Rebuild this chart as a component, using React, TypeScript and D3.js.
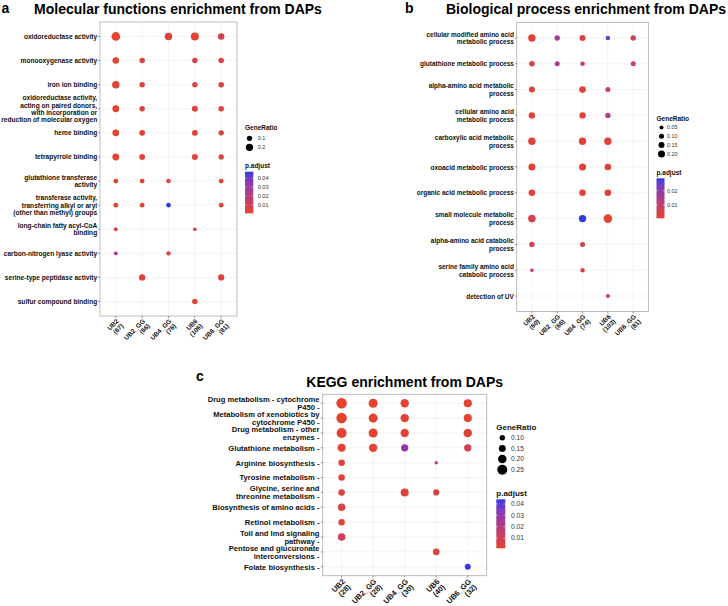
import React from 'react';
import * as d3 from 'd3';

// ---------- data ----------
const groups = ['UB2', 'UB2_GG', 'UB4_GG', 'UB6', 'UB6_GG'];
const countsA = [67, 66, 76, 106, 81];
const countsB = [60, 66, 74, 103, 81];
const countsC = [28, 28, 30, 40, 32];

const termsA = [
  'oxidoreductase activity',
  'monooxygenase activity',
  'iron ion binding',
  'oxidoreductase activity,\nacting on paired donors,\nwith incorporation or\nreduction of molecular oxygen',
  'heme binding',
  'tetrapyrrole binding',
  'glutathione transferase\nactivity',
  'transferase activity,\ntransferring alkyl or aryl\n(other than methyl) groups',
  'long-chain fatty acyl-CoA\nbinding',
  'carbon-nitrogen lyase activity',
  'serine-type peptidase activity',
  'sulfur compound binding',
];
// GeneRatio per term (rows) x group (cols)
const ratioA: (number | null)[][] = [
  [0.269, null, 0.211, 0.236, 0.16],
  [0.164, 0.106, null, 0.104, 0.111],
  [0.209, 0.106, null, 0.104, 0.111],
  [0.179, 0.106, null, 0.132, 0.111],
  [0.179, 0.121, null, 0.132, 0.099],
  [0.179, 0.121, null, 0.132, 0.099],
  [0.075, 0.076, 0.066, null, 0.074],
  [0.075, 0.076, 0.066, null, 0.074],
  [0.03, null, null, 0.019, null],
  [0.03, null, 0.053, null, null],
  [null, 0.152, null, null, 0.148],
  [null, null, null, 0.104, null],
];
const padjA: (number | null)[][] = [
  [0.0005, null, 0.003, 0.001, 0.009],
  [0.001, 0.004, null, 0.005, 0.006],
  [0.001, 0.004, null, 0.006, 0.007],
  [0.001, 0.005, null, 0.004, 0.006],
  [0.001, 0.003, null, 0.003, 0.006],
  [0.001, 0.003, null, 0.003, 0.006],
  [0.002, 0.003, 0.004, null, 0.004],
  [0.002, 0.003, 0.0475, null, 0.004],
  [0.005, null, null, 0.006, null],
  [0.028, null, 0.005, null, null],
  [null, 0.002, null, null, 0.003],
  [null, null, null, 0.002, null],
];

const termsB = [
  'cellular modified amino acid\nmetabolic process',
  'glutathione metabolic process',
  'alpha-amino acid metabolic\nprocess',
  'cellular amino acid\nmetabolic process',
  'carboxylic acid metabolic\nprocess',
  'oxoacid metabolic process',
  'organic acid metabolic process',
  'small molecule metabolic\nprocess',
  'alpha-amino acid catabolic\nprocess',
  'serine family amino acid\ncatabolic process',
  'detection of UV',
];
const ratioB: (number | null)[][] = [
  [0.22, 0.12, 0.15, 0.08, 0.12],
  [0.13, 0.1, 0.08, null, 0.1],
  [0.15, null, 0.18, 0.1, null],
  [0.17, null, 0.17, 0.12, null],
  [0.22, null, 0.22, 0.22, null],
  [0.2, null, 0.2, 0.18, null],
  [0.18, null, 0.18, 0.18, null],
  [0.23, null, 0.22, 0.28, null],
  [0.12, null, 0.1, null, null],
  [0.033, null, 0.07, null, null],
  [null, null, null, 0.05, null],
];
const padjB: (number | null)[][] = [
  [0.002, 0.016, 0.003, 0.024, 0.007],
  [0.002, 0.016, 0.008, null, 0.008],
  [0.002, null, 0.002, 0.008, null],
  [0.002, null, 0.002, 0.014, null],
  [0.002, null, 0.002, 0.002, null],
  [0.002, null, 0.002, 0.002, null],
  [0.002, null, 0.002, 0.002, null],
  [0.005, null, 0.0285, 0.0015, null],
  [0.005, null, 0.004, null, null],
  [0.01, null, 0.005, null, null],
  [null, null, null, 0.004, null],
];

const termsC = [
  'Drug metabolism - cytochrome\nP450 -',
  'Metabolism of xenobiotics by\ncytochrome P450 -',
  'Drug metabolism - other\nenzymes -',
  'Glutathione metabolism -',
  'Arginine biosynthesis -',
  'Tyrosine metabolism -',
  'Glycine, serine and\nthreonine metabolism -',
  'Biosynthesis of amino acids -',
  'Retinol metabolism -',
  'Toll and Imd signaling\npathway -',
  'Pentose and glucuronate\ninterconversions -',
  'Folate biosynthesis -',
];
const ratioC: (number | null)[][] = [
  [0.268, 0.22, 0.198, null, 0.19],
  [0.268, 0.22, 0.198, null, 0.19],
  [0.25, 0.22, 0.198, null, 0.2],
  [0.185, 0.198, 0.165, null, 0.165],
  [0.135, null, null, 0.04, null],
  [0.135, null, null, null, null],
  [0.135, null, 0.185, 0.125, null],
  [0.165, null, null, null, null],
  [0.135, null, null, null, null],
  [0.172, null, null, null, null],
  [null, null, null, 0.14, null],
  [null, null, null, null, 0.12],
];
const padjC: (number | null)[][] = [
  [0.001, 0.001, 0.002, null, 0.002],
  [0.001, 0.001, 0.002, null, 0.002],
  [0.001, 0.001, 0.002, null, 0.003],
  [0.002, 0.002, 0.029, null, 0.009],
  [0.004, null, null, 0.017, null],
  [0.004, null, null, null, null],
  [0.004, null, 0.003, 0.005, null],
  [0.005, null, null, null, null],
  [0.004, null, null, null, null],
  [0.011, null, null, null, null],
  [null, null, null, 0.004, null],
  [null, null, null, null, 0.044],
];

const sizeBreaksA = [0.1, 0.2];
const sizeBreaksB = [0.05, 0.1, 0.15, 0.2];
const sizeBreaksC = [0.1, 0.15, 0.2, 0.25];
const colorBreaksA = [0.01, 0.02, 0.03, 0.04];
const colorBreaksB = [0.01, 0.02];
const colorBreaksC = [0.01, 0.02, 0.03, 0.04];
const colorLimitsA: [number, number] = [0.0002, 0.0475];
const colorLimitsB: [number, number] = [0.0007, 0.0287];
const colorLimitsC: [number, number] = [0.0009, 0.0441];

const titleA = 'Molecular functions enrichment from DAPs';
const titleB = 'Biological process enrichment from DAPs';
const titleC = 'KEGG enrichment from DAPs';

// ---------- styling ----------
const LOW = '#E5432F';
const HIGH = '#2C3DE3';
const FONT = '"Liberation Sans", Arial, Helvetica, sans-serif';
const TEXT = '#111';

type Cfg = {
  id: string;
  terms: string[];
  counts: number[];
  ratio: (number | null)[][];
  padj: (number | null)[][];
  box: [number, number, number, number];
  yFont: number;
  yLH: number;
  yGap: number;
  xFont: number;
  xLH: number;
  xOff: number;
  rDomain: [number, number];
  rRange: [number, number];
  cLimits: [number, number];
  sizeBreaks: number[];
  sizeFmt: string;
  colorBreaks: number[];
  leg: {
    x: number;
    titleY: number;
    dotX: number;
    dotY0: number;
    dotDy: number;
    labelX: number;
    pTitleY: number;
    barW: number;
    barY0: number;
    barY1: number;
    titleFont: number;
    labelFont: number;
  };
  title: string;
  titleX: number;
  titleY: number;
  letter: string;
  letterX: number;
  letterY: number;
};

function Panel({ c }: { c: Cfg }) {
  const [x0, y0, x1, y1] = c.box;
  const x = d3.scalePoint<string>().domain(groups).range([x0, x1]).padding(0.6);
  const y = d3.scalePoint<string>().domain(c.terms).range([y0, y1]).padding(0.6);
  const r = d3.scaleLinear().domain(c.rDomain).range(c.rRange);
  const rr = (v: number) => Math.max(1, r(v));
  const col = d3
    .scaleLinear<string>()
    .domain(c.cLimits)
    .range([LOW, HIGH])
    .interpolate(d3.interpolateLab)
    .clamp(true);
  const bar = d3.scaleLinear().domain(c.cLimits).range([c.leg.barY1, c.leg.barY0]);
  const stops = d3.range(0, 11).map((i) => i / 10);
  const L = c.leg;

  const dots: JSX.Element[] = [];
  c.terms.forEach((t, i) => {
    groups.forEach((g, j) => {
      const v = c.ratio[i][j];
      const p = c.padj[i][j];
      if (v == null || p == null) return;
      dots.push(<circle key={`${i}-${j}`} cx={x(g)} cy={y(t)} r={rr(v)} fill={col(p)} />);
    });
  });

  return (
    <g fontFamily={FONT}>
      <defs>
        <linearGradient id={`grad-${c.id}`} x1="0" y1="1" x2="0" y2="0">
          {stops.map((s) => (
            <stop
              key={s}
              offset={`${s * 100}%`}
              stopColor={col(c.cLimits[0] + s * (c.cLimits[1] - c.cLimits[0]))}
            />
          ))}
        </linearGradient>
      </defs>
      <text x={c.letterX} y={c.letterY} fontSize={14} fontWeight="bold" fill="#000">
        {c.letter}
      </text>
      <text x={c.titleX} y={c.titleY} fontSize={14} fontWeight="bold" textAnchor="middle" fill="#000">
        {c.title}
      </text>
      <rect x={x0} y={y0} width={x1 - x0} height={y1 - y0} fill="#fff" />
      {groups.map((g) => (
        <line key={g} x1={x(g)} x2={x(g)} y1={y0} y2={y1} stroke="#EBEBEB" strokeWidth={0.6} />
      ))}
      {c.terms.map((t) => (
        <line key={t} x1={x0} x2={x1} y1={y(t)} y2={y(t)} stroke="#EBEBEB" strokeWidth={0.6} />
      ))}
      {dots}
      <rect x={x0} y={y0} width={x1 - x0} height={y1 - y0} fill="none" stroke="#B5B5B5" strokeWidth={0.9} />
      {/* y axis */}
      {c.terms.map((t) => {
        const lines = t.split('\n');
        const n = lines.length;
        const yy = y(t) as number;
        return (
          <g key={t}>
            <line x1={x0 - 1.8} x2={x0} y1={yy} y2={yy} stroke="#444" strokeWidth={0.6} />
            <text textAnchor="end" fontSize={c.yFont} fontWeight="bold" fill={TEXT}>
              {lines.map((ln, k) => (
                <tspan key={k} x={x0 - c.yGap} y={yy + (k - (n - 1) / 2) * c.yLH + 0.34 * c.yFont + 0.3}>
                  {ln}
                </tspan>
              ))}
            </text>
          </g>
        );
      })}
      {/* x axis */}
      {groups.map((g, j) => {
        const xx = x(g) as number;
        return (
          <g key={g}>
            <line x1={xx} x2={xx} y1={y1} y2={y1 + 1.8} stroke="#444" strokeWidth={0.6} />
            <text
              transform={`translate(${xx},${y1 + c.xOff}) rotate(-45)`}
              textAnchor="end"
              fontSize={c.xFont}
              fontWeight="bold"
              fill={TEXT}
            >
              <tspan x={0} y={0.72 * c.xFont}>
                {g}
              </tspan>
              <tspan x={0} y={0.72 * c.xFont + c.xLH}>
                {`(${c.counts[j]})`}
              </tspan>
            </text>
          </g>
        );
      })}
      {/* size legend */}
      <text x={L.x} y={L.titleY + 0.35 * L.titleFont} fontSize={L.titleFont} fontWeight="bold" fill={TEXT}>
        GeneRatio
      </text>
      {c.sizeBreaks.map((b, i) => (
        <g key={b}>
          <circle cx={L.dotX} cy={L.dotY0 + i * L.dotDy} r={rr(b)} fill="#000" />
          <text
            x={L.labelX}
            y={L.dotY0 + i * L.dotDy + 0.35 * L.labelFont}
            fontSize={L.labelFont}
            fill="#333"
          >
            {d3.format(c.sizeFmt)(b)}
          </text>
        </g>
      ))}
      {/* color legend */}
      <text x={L.x} y={L.pTitleY + 0.35 * L.titleFont} fontSize={L.titleFont} fontWeight="bold" fill={TEXT}>
        p.adjust
      </text>
      <rect x={L.x} y={L.barY0} width={L.barW} height={L.barY1 - L.barY0} fill={`url(#grad-${c.id})`} />
      {c.colorBreaks.map((b) => (
        <g key={b}>
          <line x1={L.x} x2={L.x + L.barW * 0.2} y1={bar(b)} y2={bar(b)} stroke="#fff" strokeWidth={0.5} />
          <line x1={L.x + L.barW * 0.8} x2={L.x + L.barW} y1={bar(b)} y2={bar(b)} stroke="#fff" strokeWidth={0.5} />
          <text x={L.labelX} y={bar(b) + 0.35 * L.labelFont} fontSize={L.labelFont} fill="#333">
            {d3.format('.2f')(b)}
          </text>
        </g>
      ))}
    </g>
  );
}

const cfgA: Cfg = {
  id: 'a',
  terms: termsA,
  counts: countsA,
  ratio: ratioA,
  padj: padjA,
  box: [100, 22, 237, 316],
  yFont: 6.6,
  yLH: 7.3,
  yGap: 2.8,
  xFont: 6.5,
  xLH: 6.8,
  xOff: 2.3,
  rDomain: [0.1, 0.2],
  rRange: [2.65, 3.65],
  cLimits: colorLimitsA,
  sizeBreaks: sizeBreaksA,
  sizeFmt: '.1f',
  colorBreaks: colorBreaksA,
  leg: {
    x: 245,
    titleY: 128,
    dotX: 249.5,
    dotY0: 138.3,
    dotDy: 9,
    labelX: 257.7,
    pTitleY: 165.7,
    barW: 8.3,
    barY0: 171.7,
    barY1: 213.3,
    titleFont: 6.5,
    labelFont: 5.6,
  },
  title: titleA,
  titleX: 178,
  titleY: 13.5,
  letter: 'a',
  letterX: 1.5,
  letterY: 13,
};

const cfgB: Cfg = {
  id: 'b',
  terms: termsB,
  counts: countsB,
  ratio: ratioB,
  padj: padjB,
  box: [516.7, 22.5, 648.4, 311.5],
  yFont: 6.5,
  yLH: 7.7,
  yGap: 2.8,
  xFont: 6.5,
  xLH: 6.8,
  xOff: 2.3,
  rDomain: [0.05, 0.2],
  rRange: [2.0, 3.5],
  cLimits: colorLimitsB,
  sizeBreaks: sizeBreaksB,
  sizeFmt: '.2f',
  colorBreaks: colorBreaksB,
  leg: {
    x: 656.5,
    titleY: 118.3,
    dotX: 661.5,
    dotY0: 127.5,
    dotDy: 8.8,
    labelX: 667,
    pTitleY: 172.7,
    barW: 8,
    barY0: 178.3,
    barY1: 218.3,
    titleFont: 6.5,
    labelFont: 5.4,
  },
  title: titleB,
  titleX: 586,
  titleY: 14,
  letter: 'b',
  letterX: 405,
  letterY: 12.5,
};

const cfgC: Cfg = {
  id: 'c',
  terms: termsC,
  counts: countsC,
  ratio: ratioC,
  padj: padjC,
  box: [322.7, 394.3, 486.7, 575.7],
  yFont: 7.6,
  yLH: 8.1,
  yGap: 3.2,
  xFont: 7.6,
  xLH: 7.8,
  xOff: 2.5,
  rDomain: [0.1, 0.25],
  rRange: [2.7, 5.0],
  cLimits: colorLimitsC,
  sizeBreaks: sizeBreaksC,
  sizeFmt: '.2f',
  colorBreaks: colorBreaksC,
  leg: {
    x: 496.3,
    titleY: 426.7,
    dotX: 502.3,
    dotY0: 437.7,
    dotDy: 10.7,
    labelX: 511,
    pTitleY: 493.3,
    barW: 9,
    barY0: 499.3,
    barY1: 548.3,
    titleFont: 8,
    labelFont: 6.6,
  },
  title: titleC,
  titleX: 404.7,
  titleY: 387.3,
  letter: 'c',
  letterX: 196,
  letterY: 380.5,
};

export default function App() {
  return (
    <svg
      width={728}
      height={606}
      viewBox="0 0 728 606"
      style={{ position: 'absolute', left: 0, top: 0, background: '#fff' }}
    >
      <rect x={0} y={0} width={728} height={606} fill="#fff" />
      <Panel c={cfgA} />
      <Panel c={cfgB} />
      <Panel c={cfgC} />
    </svg>
  );
}
